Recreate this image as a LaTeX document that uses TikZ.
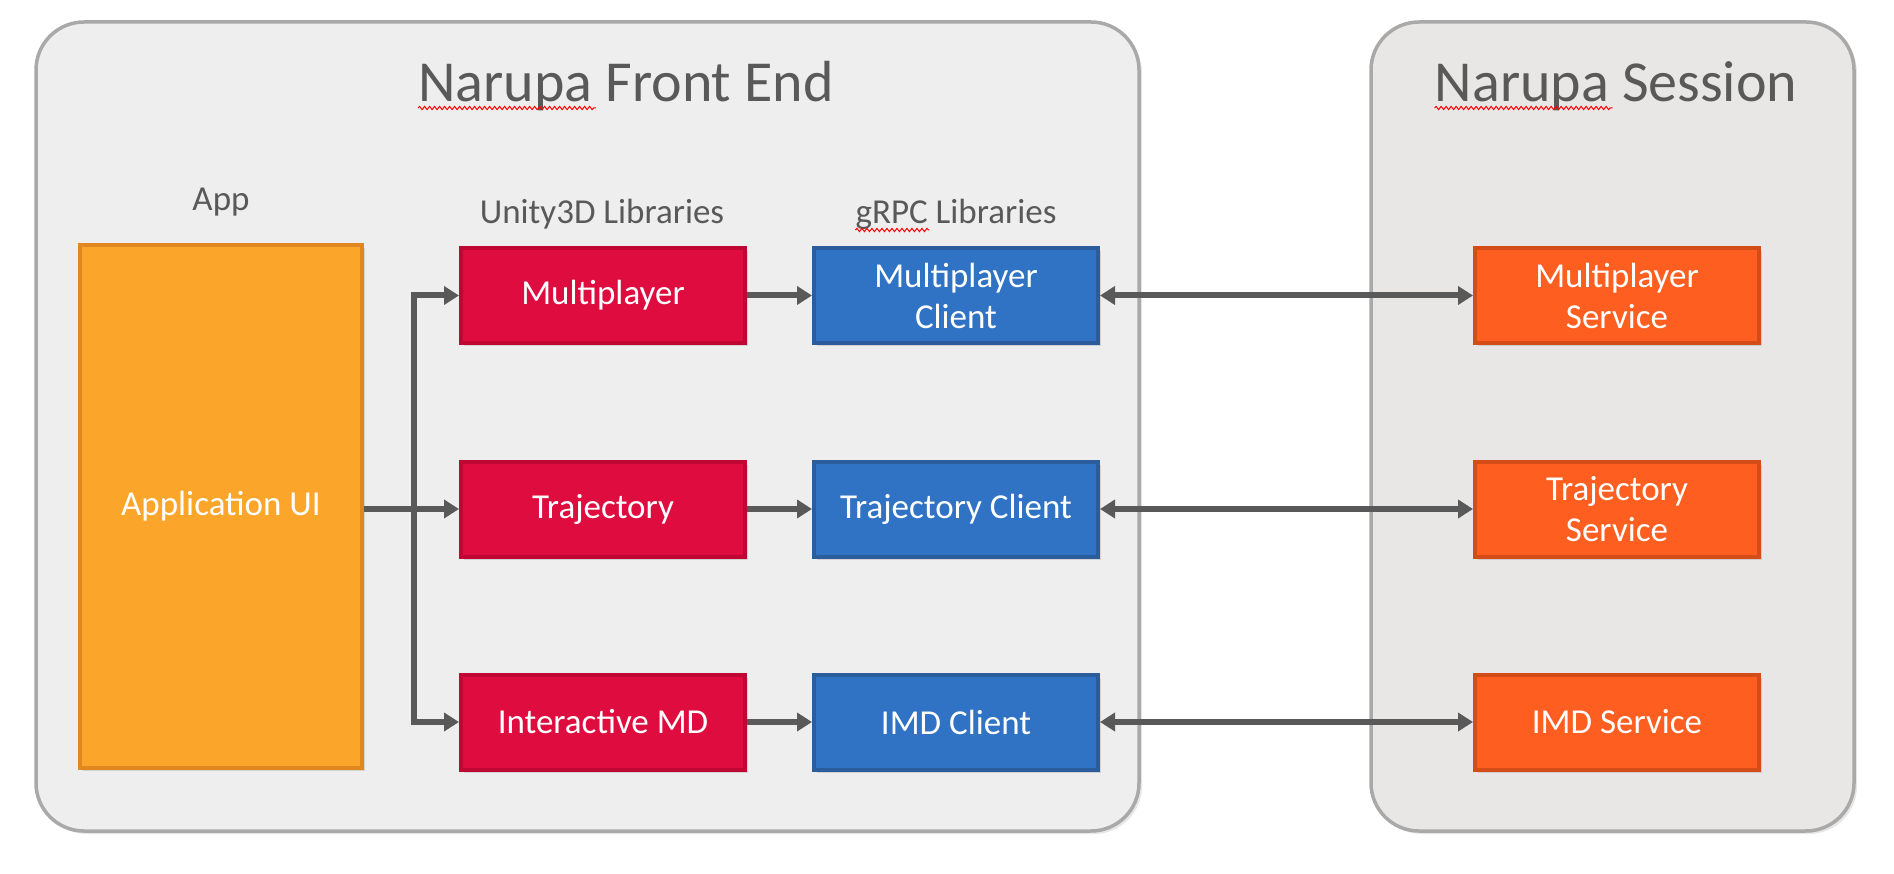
\documentclass[tikz,border=0pt]{standalone}
\usepackage{fontspec}
\setmainfont{Carlito}
\usetikzlibrary{arrows.meta,shadows,decorations.pathmorphing}
\definecolor{txtgray}{HTML}{595959}
\definecolor{panelfill}{HTML}{EEEEEE}
\definecolor{panelfillb}{HTML}{E8E7E6}
\definecolor{panelborder}{HTML}{A9A9A9}
\definecolor{appfill}{HTML}{FBA52A}
\definecolor{appborder}{HTML}{E0871F}
\definecolor{redfill}{HTML}{DF0C3F}
\definecolor{redborder}{HTML}{C00632}
\definecolor{bluefill}{HTML}{3073C4}
\definecolor{blueborder}{HTML}{2B5C9C}
\definecolor{orfill}{HTML}{FE5E20}
\definecolor{orborder}{HTML}{D44C18}
\newcommand\boxfont{\fontsize{35}{41}\selectfont}
\newcommand\titlefont{\fontsize{58}{70}\selectfont}
\begin{document}
\begin{tikzpicture}[x=1pt,y=-1pt,
  panel/.style={draw=panelborder, line width=3.5pt, rounded corners=48pt,
    drop shadow={opacity=0.2,shadow xshift=3pt,shadow yshift=-3pt}},
  box/.style={draw, line width=4pt, text=white, font=\boxfont, align=center,
    inner sep=0pt, minimum width=284pt, minimum height=95pt,
    drop shadow={opacity=0.25,shadow xshift=3pt,shadow yshift=-3pt}},
  redbox/.style={box, fill=redfill, draw=redborder},
  bluebox/.style={box, fill=bluefill, draw=blueborder},
  orbox/.style={box, fill=orfill, draw=orborder},
  title/.style={text=txtgray, font=\titlefont, inner sep=0pt, anchor=base},
  header/.style={text=txtgray, font=\boxfont, inner sep=0pt, anchor=base},
  conn/.style={draw=txtgray, line width=6pt, line join=miter,
    -{Triangle[length=15pt,width=18pt]}},
  dconn/.style={draw=txtgray, line width=6pt,
    {Triangle[length=15pt,width=18pt]}-{Triangle[length=15pt,width=18pt]}},
  squiggle/.style={draw=red, line width=1pt,
    decorate, decoration={snake, amplitude=1.6pt, segment length=5pt}},
]
\useasboundingbox (0,0) rectangle (1894,874);

% panels
\node[panel, fill=panelfill, minimum width=1103pt, minimum height=809pt] (fe) at (587.5,426.5) {};
\node[panel, fill=panelfillb, minimum width=483pt, minimum height=809pt] (ses) at (1612.5,426.5) {};

% titles
\node[title] (fetitle) at (626,102) {Narupa Front End};
\node[title] (sestitle) at (1616,102) {Narupa Session};
\draw[squiggle] ([yshift=-6pt]fetitle.base west) -- ++(178,0);
\draw[squiggle] ([yshift=-6pt]sestitle.base west) -- ++(178,0);

% headers
\node[header] (happ) at (221,211) {App};
\node[header] (hunity) at (602,224) {Unity3D Libraries};
\node[header] (hgrpc) at (956,224) {gRPC Libraries};
\draw[squiggle] ([yshift=-6pt]hgrpc.base west) -- ++(74,0);

% app
\node[box, fill=appfill, draw=appborder, minimum width=282pt, minimum height=523pt] (app) at (221,506.5) {Application UI};

% red
\node[redbox] (mp) at (603,295.5) {Multiplayer};
\node[redbox] (tr) at (603,509) {Trajectory};
\node[redbox] (imd) at (603,722) {Interactive MD};

% blue
\node[bluebox] (mpc) at (956,295.5) {Multiplayer\\Client};
\node[bluebox] (trc) at (956,509) {Trajectory Client};
\node[bluebox] (imdc) at (956,722) {IMD Client};

% services
\node[orbox] (mps) at (1617,295.5) {Multiplayer\\Service};
\node[orbox] (trs) at (1617,509) {Trajectory\\Service};
\node[orbox] (imds) at (1617,722) {IMD Service};

% connectors
\coordinate (j) at (414,509);
\draw[draw=txtgray, line width=6pt] (app.east |- j) -- (j);
\draw[conn] (j) |- (mp.west);
\draw[conn] (j) -- (tr.west);
\draw[conn] (j) |- (imd.west);

\draw[conn] (mp) -- (mpc);
\draw[conn] (tr) -- (trc);
\draw[conn] (imd) -- (imdc);

\draw[dconn] (mpc) -- (mps);
\draw[dconn] (trc) -- (trs);
\draw[dconn] (imdc) -- (imds);
\end{tikzpicture}
\end{document}
